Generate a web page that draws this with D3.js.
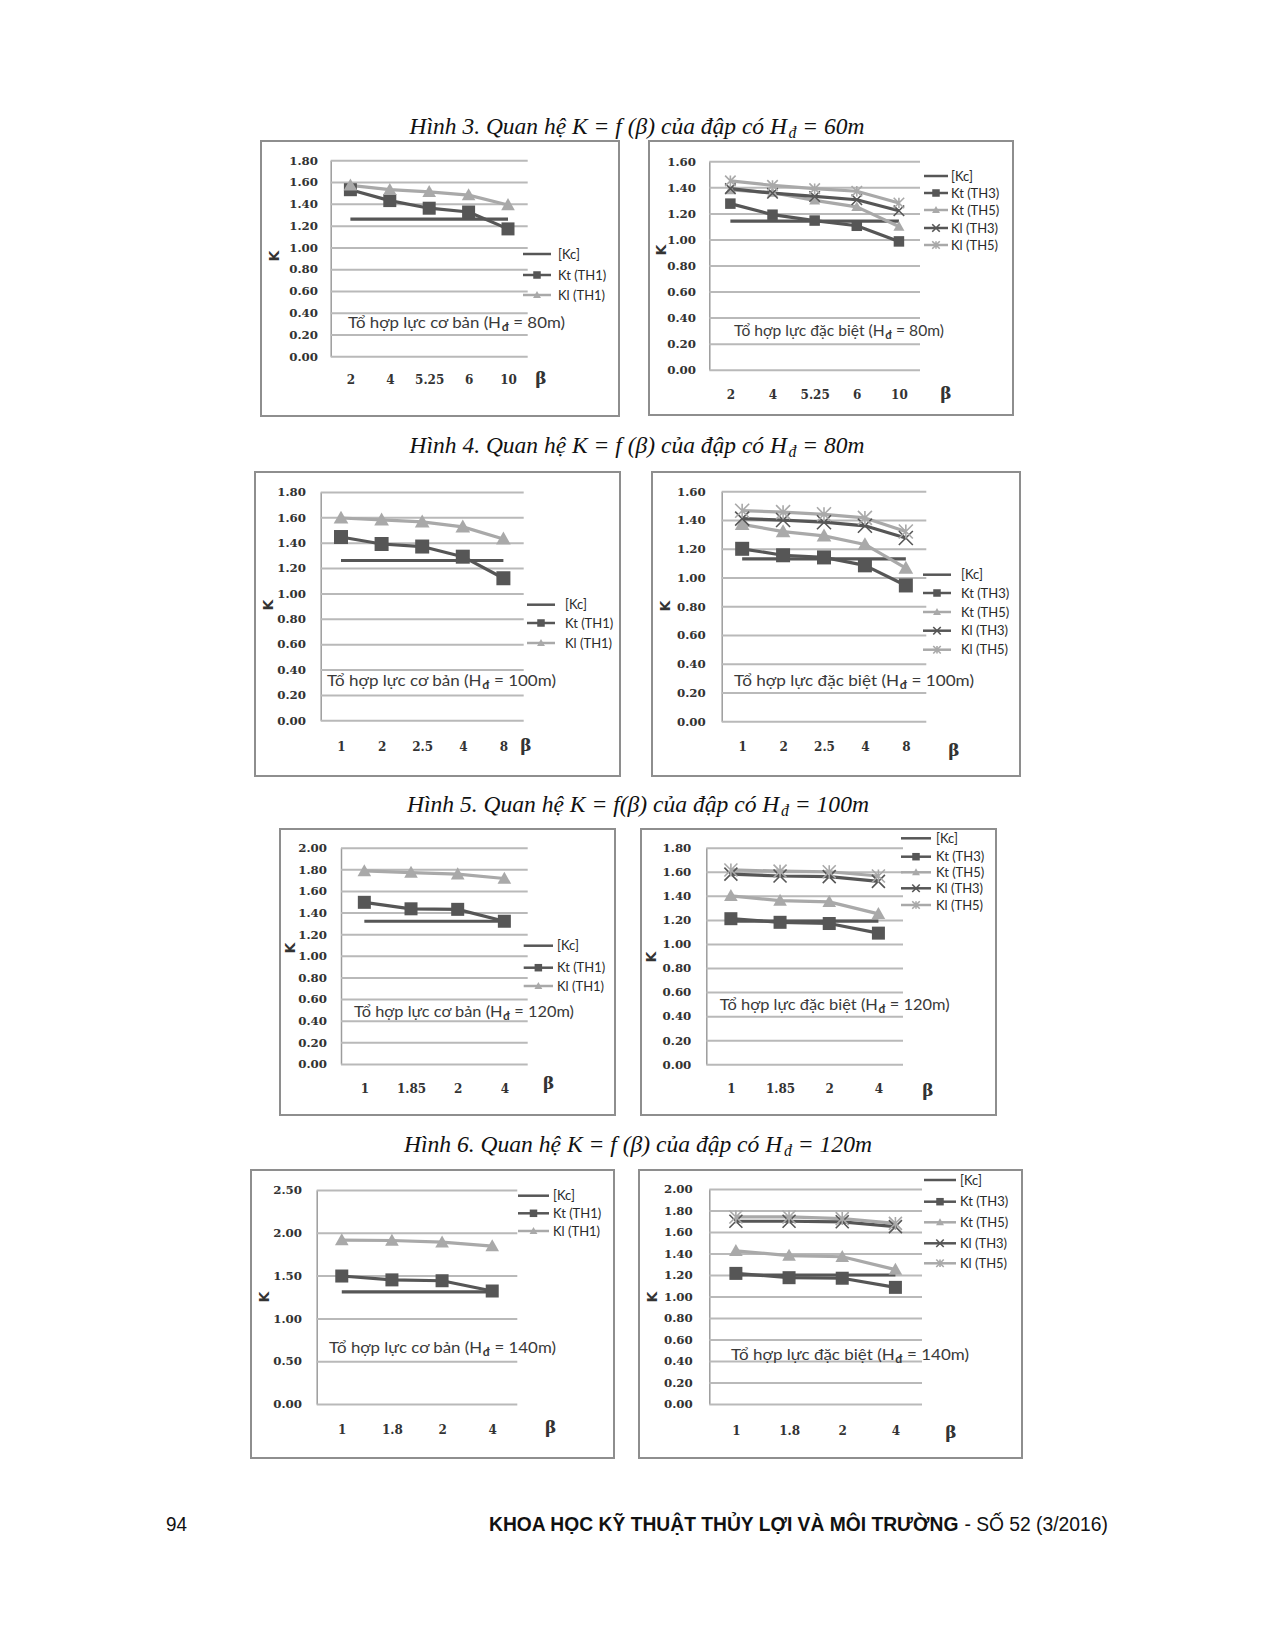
<!DOCTYPE html>
<html><head><meta charset="utf-8">
<script src="https://cdn.jsdelivr.net/npm/d3@7"></script>
<style>body{margin:0;background:#fff}</style>
</head><body>
<svg id="page" width="1274" height="1649"></svg>
<script>
// ---------------- DATA ----------------
// Hình 3 (Hđ = 60m)
const betaH3 = ["2", "4", "5.25", "6", "10"];
const h3aKc    = [1.26, 1.26, 1.26, 1.26, 1.26];
const h3aKtTH1 = [1.53, 1.43, 1.36, 1.325, 1.17];
const h3aKlTH1 = [1.57, 1.53, 1.51, 1.48, 1.39];
const h3bKc    = [1.14, 1.14, 1.14, 1.14, 1.14];
const h3bKtTH3 = [1.275, 1.19, 1.145, 1.105, 0.985];
const h3bKtTH5 = [1.38, 1.36, 1.30, 1.25, 1.10];
const h3bKlTH3 = [1.39, 1.355, 1.33, 1.305, 1.22];
const h3bKlTH5 = [1.45, 1.415, 1.39, 1.37, 1.28];
// Hình 4 (Hđ = 80m)
const betaH4 = ["1", "2", "2.5", "4", "8"];
const h4aKc    = [1.26, 1.26, 1.26, 1.26, 1.26];
const h4aKtTH1 = [1.445, 1.39, 1.37, 1.29, 1.12];
const h4aKlTH1 = [1.595, 1.58, 1.565, 1.525, 1.43];
const h4bKc    = [1.13, 1.13, 1.13, 1.13, 1.13];
const h4bKtTH3 = [1.20, 1.155, 1.14, 1.085, 0.945];
const h4bKtTH5 = [1.37, 1.32, 1.29, 1.23, 1.065];
const h4bKlTH3 = [1.41, 1.40, 1.385, 1.36, 1.275];
const h4bKlTH5 = [1.465, 1.455, 1.44, 1.415, 1.32];
// Hình 5 (Hđ = 100m)
const betaH5 = ["1", "1.85", "2", "4"];
const h5aKc    = [1.32, 1.32, 1.32, 1.32];
const h5aKtTH1 = [1.495, 1.435, 1.43, 1.32];
const h5aKlTH1 = [1.785, 1.77, 1.755, 1.715];
const h5bKc    = [1.19, 1.19, 1.19, 1.19];
const h5bKtTH3 = [1.21, 1.18, 1.17, 1.09];
const h5bKtTH5 = [1.40, 1.36, 1.35, 1.25];
const h5bKlTH3 = [1.58, 1.565, 1.56, 1.52];
const h5bKlTH5 = [1.615, 1.605, 1.60, 1.565];
// Hình 6 (Hđ = 120m)
const betaH6 = ["1", "1.8", "2", "4"];
const h6aKc    = [1.31, 1.31, 1.31, 1.31];
const h6aKtTH1 = [1.495, 1.45, 1.44, 1.32];
const h6aKlTH1 = [1.915, 1.91, 1.89, 1.845];
const h6bKc    = [1.20, 1.20, 1.20, 1.20];
const h6bKtTH3 = [1.215, 1.175, 1.17, 1.085];
const h6bKtTH5 = [1.425, 1.38, 1.37, 1.25];
const h6bKlTH3 = [1.70, 1.70, 1.695, 1.65];
const h6bKlTH5 = [1.74, 1.74, 1.725, 1.68];

// tick labels
const kTicks16 = [0, 0.2, 0.4, 0.6, 0.8, 1.0, 1.2, 1.4, 1.6];
const kTicks18 = [0, 0.2, 0.4, 0.6, 0.8, 1.0, 1.2, 1.4, 1.6, 1.8];
const kTicks20 = [0, 0.2, 0.4, 0.6, 0.8, 1.0, 1.2, 1.4, 1.6, 1.8, 2.0];
const kTicks25 = [0, 0.5, 1.0, 1.5, 2.0, 2.5];

// legend labels
const legendBasic = ["[Kc]", "Kt (TH1)", "Kl (TH1)"];
const legendSpecial = ["[Kc]", "Kt (TH3)", "Kt (TH5)", "Kl (TH3)", "Kl (TH5)"];

// captions & notes
const captions = [
  ["Hình 3. Quan hệ K = f (β) của đập có H", "đ", "= 60m"],
  ["Hình 4. Quan hệ K = f (β) của đập có H", "đ", "= 80m"],
  ["Hình 5. Quan hệ K = f(β) của đập có H", "đ", "= 100m"],
  ["Hình 6. Quan hệ K = f (β) của đập có H", "đ", "= 120m"]
];
const noteBasic = "Tổ hợp lực cơ bản (H";
const noteSpecial = "Tổ hợp lực đặc biệt (H";

// ---------------- STYLES ----------------
const DARK = "#565656", LIGHT = "#a9a9a9";
const styleBasic = [
  {color: DARK, marker: null},
  {color: DARK, marker: "square"},
  {color: LIGHT, marker: "triangle"}
];
const styleSpecial = [
  {color: DARK, marker: null},
  {color: DARK, marker: "square"},
  {color: LIGHT, marker: "triangle"},
  {color: DARK, marker: "x"},
  {color: LIGHT, marker: "star"}
];

const svg = d3.select("#page");

// text made of separate pieces, scaled horizontally to a target width
function richText(parent, x, y, parts, w, anchor, font) {
  const g = parent.append("g");
  let cx = 0;
  parts.forEach(p => {
    cx += p.gap || 0;
    const t = g.append("text").attr("x", cx).attr("y", p.dy || 0)
      .attr("font-family", font.family).attr("font-size", p.size || font.size)
      .attr("font-style", font.style || "normal").attr("font-weight", p.weight || font.weight || "normal")
      .attr("fill", font.fill).text(p.text);
    cx += t.node().getComputedTextLength();
  });
  const sx = w / cx;
  const x0 = anchor === "middle" ? x - w / 2 : x;
  g.attr("transform", `translate(${x0},${y}) scale(${sx},1)`);
  return g;
}

function drawMarker(g, type, cx, cy, s, color) {
  const h = s / 2;
  if (type === "square") {
    g.append("rect").attr("x", cx - h).attr("y", cy - h).attr("width", s).attr("height", s)
      .attr("fill", color);
  } else if (type === "triangle") {
    g.append("path").attr("d", `M${cx},${cy - h * 1.05}L${cx + h * 1.05},${cy + h * 0.8}L${cx - h * 1.05},${cy + h * 0.8}Z`)
      .attr("fill", color);
  } else if (type === "x") {
    g.append("path").attr("d", `M${cx - h},${cy - h}L${cx + h},${cy + h}M${cx - h},${cy + h}L${cx + h},${cy - h}`)
      .attr("stroke", color).attr("stroke-width", 1.6).attr("fill", "none");
  } else if (type === "star") {
    g.append("path").attr("d", `M${cx - h},${cy - h}L${cx + h},${cy + h}M${cx - h},${cy + h}L${cx + h},${cy - h}M${cx},${cy - h}L${cx},${cy + h}`)
      .attr("stroke", color).attr("stroke-width", 1.6).attr("fill", "none");
  }
}

function drawChart(cfg) {
  const g = svg.append("g");
  const [bx0, by0, bx1, by1] = cfg.box;
  const [l, t, r, b] = cfg.plot;
  g.append("rect").attr("x", bx0).attr("y", by0).attr("width", bx1 - bx0).attr("height", by1 - by0)
    .attr("fill", "#fff").attr("stroke", "#8e8e8e").attr("stroke-width", 2);

  const y = d3.scaleLinear().domain([0, cfg.ticks[cfg.ticks.length - 1]]).range([b, t]);
  const x = d3.scalePoint().domain(cfg.cats).range([l, r]).padding(0.5);

  const ya = g.append("g").attr("transform", `translate(${l},0)`)
    .call(d3.axisLeft(y).tickValues(cfg.ticks).tickFormat(d3.format(".2f"))
      .tickSize(-(r - l)).tickSizeOuter(0).tickPadding(l - cfg.tickRight));
  ya.selectAll(".tick line").attr("stroke", "#b9b9b9").attr("stroke-width", 2);
  ya.select(".domain").attr("stroke", "#9c9c9c").attr("stroke-width", 1.5);
  ya.selectAll("text").attr("font-family", "DejaVu Serif").attr("font-weight", "bold")
    .attr("font-size", 11.8).attr("fill", "#333");

  const xa = g.append("g").attr("transform", `translate(0,${b})`)
    .call(d3.axisBottom(x).tickSize(0).tickPadding(cfg.xLabelY - b - 4.4));
  xa.select(".domain").remove();
  xa.selectAll("text").attr("font-family", "DejaVu Serif").attr("font-weight", "bold")
    .attr("font-size", 12).attr("fill", "#333");

  // K label
  g.append("text").attr("transform", `translate(${cfg.kPos[0]},${cfg.kPos[1]}) rotate(-90)`)
    .attr("text-anchor", "middle").attr("dy", "0.35em")
    .attr("font-family", "DejaVu Sans").attr("font-weight", "bold").attr("font-size", 14)
    .attr("fill", "#333").text("K");
  // beta
  g.append("text").attr("x", cfg.beta[0]).attr("y", cfg.beta[1]).attr("dy", "0.35em")
    .attr("text-anchor", "middle").attr("font-family", "DejaVu Serif").attr("font-weight", "bold")
    .attr("font-size", 17).attr("fill", "#333").text("β");

  // note
  richText(g, cfg.note.x, cfg.note.y, [
    {text: cfg.note.text},
    {text: "đ", size: 11.5, weight: "bold", dy: 3, gap: 0.5},
    {text: "= " + cfg.note.h + ")", gap: 4.5}
  ], cfg.note.w, "start", {family: "Lato", size: 16, fill: "#3a3a3a"});

  // series
  const line = d3.line().x(d => x(d.c)).y(d => y(d.v));
  cfg.series.forEach((s, i) => {
    const pts = cfg.cats.map((c, j) => ({c, v: s.values[j]}));
    g.append("path").datum(pts).attr("d", line).attr("fill", "none")
      .attr("stroke", s.style.color).attr("stroke-width", 3.2).attr("stroke-linejoin", "round");
  });
  cfg.series.forEach((s, i) => {
    if (!s.style.marker) return;
    cfg.cats.forEach((c, j) => drawMarker(g, s.style.marker, x(c), y(s.values[j]), cfg.ms, s.style.color));
  });

  // legend
  cfg.series.forEach((s, i) => {
    const ry = cfg.legend.rows[i];
    g.append("line").attr("x1", cfg.legend.x1).attr("x2", cfg.legend.x2).attr("y1", ry).attr("y2", ry)
      .attr("stroke", s.style.color).attr("stroke-width", 2.5);
    if (s.style.marker) drawMarker(g, s.style.marker, (cfg.legend.x1 + cfg.legend.x2) / 2, ry, 7.5, s.style.color);
    g.append("text").attr("x", cfg.legend.tx).attr("y", ry).attr("dy", "0.35em")
      .attr("font-family", "Lato").attr("font-size", 13).attr("fill", "#2a2a2a").text(s.label);
  });
}

function basicSeries(vals) {
  return vals.map((v, i) => ({values: v, label: legendBasic[i], style: styleBasic[i]}));
}
function specialSeries(vals) {
  return vals.map((v, i) => ({values: v, label: legendSpecial[i], style: styleSpecial[i]}));
}

// ---------------- CHARTS ----------------
drawChart({box: [261, 141, 619, 416], plot: [330.7, 160.3, 527.7, 356.3], ticks: kTicks18, cats: betaH3,
  tickRight: 318, xLabelY: 380, beta: [541, 378], kPos: [274, 256], ms: 13,
  legend: {x1: 523, x2: 551, tx: 558, rows: [254, 275, 295]},
  note: {x: 348, y: 328, w: 217, text: noteBasic, h: "80m"},
  series: basicSeries([h3aKc, h3aKtTH1, h3aKlTH1])});

drawChart({box: [649, 141, 1013, 415], plot: [709.3, 161.3, 920, 369.7], ticks: kTicks16, cats: betaH3,
  tickRight: 696, xLabelY: 395, beta: [946, 393], kPos: [661, 250], ms: 10.5,
  legend: {x1: 924, x2: 948, tx: 951, rows: [176, 193, 210, 228, 245]},
  note: {x: 734, y: 336, w: 210, text: noteSpecial, h: "80m"},
  series: specialSeries([h3bKc, h3bKtTH3, h3bKtTH5, h3bKlTH3, h3bKlTH5])});

drawChart({box: [255, 472, 620, 776], plot: [320.7, 492, 523.7, 720.3], ticks: kTicks18, cats: betaH4,
  tickRight: 306, xLabelY: 747, beta: [526, 745], kPos: [268, 605], ms: 14,
  legend: {x1: 527, x2: 555, tx: 565, rows: [604.7, 623, 643]},
  note: {x: 327, y: 686, w: 229, text: noteBasic, h: "100m"},
  series: basicSeries([h4aKc, h4aKtTH1, h4aKlTH1])});

drawChart({box: [652, 472, 1020, 776], plot: [721.7, 491.3, 926.3, 721.3], ticks: kTicks16, cats: betaH4,
  tickRight: 705.7, xLabelY: 747.3, beta: [954, 750], kPos: [665, 606], ms: 14,
  legend: {x1: 923, x2: 951, tx: 961, rows: [574.7, 593, 612, 630.7, 649.7]},
  note: {x: 734, y: 686, w: 240, text: noteSpecial, h: "100m"},
  series: specialSeries([h4bKc, h4bKtTH3, h4bKtTH5, h4bKlTH3, h4bKlTH5])});

drawChart({box: [280, 829, 615, 1115], plot: [341, 847.7, 527.7, 1064], ticks: kTicks20, cats: betaH5,
  tickRight: 327, xLabelY: 1089, beta: [548.7, 1083], kPos: [290, 948], ms: 13,
  legend: {x1: 523.7, x2: 553, tx: 557, rows: [945.7, 967.7, 986]},
  note: {x: 354, y: 1016.7, w: 220, text: noteBasic, h: "120m"},
  series: basicSeries([h5aKc, h5aKtTH1, h5aKlTH1])});

drawChart({box: [641, 829, 996, 1115], plot: [706.3, 847.7, 903, 1064.3], ticks: kTicks18, cats: betaH5,
  tickRight: 691.3, xLabelY: 1089.3, beta: [928, 1090], kPos: [651, 957], ms: 13,
  legend: {x1: 901, x2: 931, tx: 936, rows: [838.3, 856.7, 872.3, 888.3, 905]},
  note: {x: 719.7, y: 1010, w: 230, text: noteSpecial, h: "120m"},
  series: specialSeries([h5bKc, h5bKtTH3, h5bKtTH5, h5bKlTH3, h5bKlTH5])});

drawChart({box: [251, 1170, 614, 1458], plot: [316.7, 1190, 517.3, 1404], ticks: kTicks25, cats: betaH6,
  tickRight: 302, xLabelY: 1430, beta: [550.7, 1426.7], kPos: [264, 1297], ms: 13,
  legend: {x1: 518, x2: 549, tx: 553, rows: [1195.7, 1213.3, 1231]},
  note: {x: 329, y: 1353.3, w: 227, text: noteBasic, h: "140m"},
  series: basicSeries([h6aKc, h6aKtTH1, h6aKlTH1])});

drawChart({box: [639, 1170, 1022, 1458], plot: [709.3, 1189, 922, 1404], ticks: kTicks20, cats: betaH6,
  tickRight: 692.7, xLabelY: 1431, beta: [951, 1431.7], kPos: [652, 1297], ms: 13,
  legend: {x1: 924, x2: 956, tx: 960, rows: [1180, 1201.7, 1222.3, 1243.3, 1263.3]},
  note: {x: 731, y: 1360, w: 238, text: noteSpecial, h: "140m"},
  series: specialSeries([h6bKc, h6bKtTH3, h6bKtTH5, h6bKlTH3, h6bKlTH5])});

// ---------------- CAPTIONS ----------------
const capPos = [[637, 134, 455], [637, 453, 455], [638, 812, 462], [638, 1152, 468]];
captions.forEach((c, i) => {
  const [cx, cy, w] = capPos[i];
  richText(svg, cx, cy, [
    {text: c[0]},
    {text: c[1], size: 16, dy: 4, gap: 1.5},
    {text: c[2], gap: 6}
  ], w, "middle", {family: "Liberation Serif", size: 24, style: "italic", fill: "#111"});
});

// ---------------- FOOTER ----------------
svg.append("text").attr("x", 166).attr("y", 1531).attr("font-family", "Liberation Sans")
  .attr("font-size", 20).attr("fill", "#111").attr("textLength", 21).attr("lengthAdjust", "spacingAndGlyphs").text("94");
richText(svg, 489, 1531, [
  {text: "KHOA HỌC KỸ THUẬT THỦY LỢI VÀ MÔI TRƯỜNG", weight: "bold"},
  {text: "- SỐ 52 (3/2016)", gap: 6}
], 619, "start", {family: "Liberation Sans", size: 21, fill: "#111"});
</script>
</body></html>
